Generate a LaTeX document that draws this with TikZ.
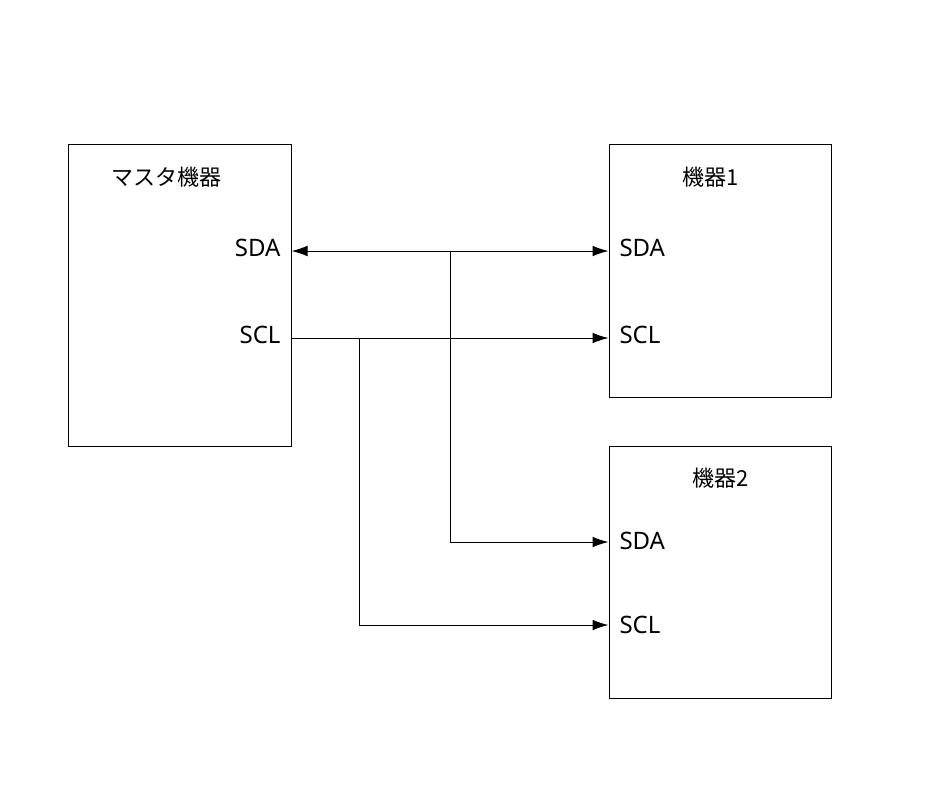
\documentclass[tikz,border=0pt]{standalone}
\usepackage{fontspec}
\setmainfont{Noto Sans}
\newfontfamily\jpfont{Noto Sans CJK JP}
\usetikzlibrary{arrows.meta}
\begin{document}
\begin{tikzpicture}[x=0.75pt,y=-0.75pt,>={Latex[length=12pt,width=8pt]},line width=0.75pt,
	box/.style={draw,rectangle,inner sep=0pt},
	title/.style={font=\jpfont\fontsize{16.5}{19}\selectfont},
	port/.style={font=\fontsize{18}{21}\selectfont,inner sep=0pt}]

	\useasboundingbox (0,0) rectangle (945,794);

	\node[box, minimum width=167.25pt, minimum height=226.5pt] (Master) at (179.5,295) {};
	\node[box, minimum width=166.5pt, minimum height=189.75pt] (Dev1) at (720,270.5) {};
	\node[box, minimum width=166.5pt, minimum height=189pt] (Dev2) at (720,572) {};

	\node[title] (MasterT) at (166,177) {マスタ機器};
	\node[title] (Dev1T) at (711,177) {機器1};
	\node[title] (Dev2T) at (721,478) {機器2};

	\node[port, anchor=base east] (mSDAl) at (281,256) {SDA};
	\node[port, anchor=base east] (mSCLl) at (281,343) {SCL};
	\node[port, anchor=base west] (aSDAl) at (619,256) {SDA};
	\node[port, anchor=base west] (aSCLl) at (619,343) {SCL};
	\node[port, anchor=base west] (bSDAl) at (619,549) {SDA};
	\node[port, anchor=base west] (bSCLl) at (619,633) {SCL};

	\coordinate (mSDA) at (Master.east |- 0,251);
	\coordinate (mSCL) at (Master.east |- 0,338);
	\coordinate (aSDA) at (Dev1.west |- 0,251);
	\coordinate (aSCL) at (Dev1.west |- 0,338);
	\coordinate (bSDA) at (Dev2.west |- 0,542);
	\coordinate (bSCL) at (Dev2.west |- 0,625);
	\coordinate (jSDA) at (450,251);
	\coordinate (jSCL) at (359,338);

	\draw[<->] (mSDA) -- (aSDA);
	\draw[->] (jSDA) |- (bSDA);
	\draw[->] (mSCL) -- (aSCL);
	\draw[->] (jSCL) |- (bSCL);

\end{tikzpicture}
\end{document}
